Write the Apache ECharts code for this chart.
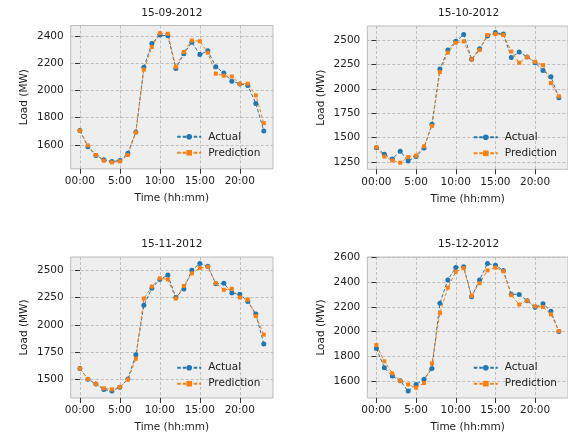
<!DOCTYPE html>
<html>
<head>
<meta charset="utf-8">
<script src="https://cdn.jsdelivr.net/npm/echarts@6/dist/echarts.min.js"></script>
<style>
    html, body { margin: 0; padding: 0; background: #fff; }
    #chart { width: 568px; height: 434px; }
</style>
</head>
<body>
<div id="chart"></div>
<script>
    // hourly load, actual vs. prediction, one day per month
    var hours = [0, 1, 2, 3, 4, 5, 6, 7, 8, 9, 10, 11, 12, 13, 14, 15, 16, 17, 18, 19, 20, 21, 22, 23];
    var xTicks = [0, 5, 10, 15, 20];
    var titles = ['15-09-2012', '15-10-2012', '15-11-2012', '15-12-2012'];

    var actualSep = [1705, 1585, 1522, 1490, 1476, 1484, 1538, 1695, 2172, 2348, 2410, 2405, 2163, 2272, 2358, 2266, 2294, 2177, 2130, 2070, 2050, 2038, 1906, 1703];
    var predSep   = [1705, 1595, 1525, 1483, 1470, 1478, 1525, 1692, 2155, 2322, 2425, 2420, 2175, 2285, 2370, 2365, 2280, 2125, 2110, 2105, 2050, 2052, 1965, 1760];

    var actualOct = [1395, 1330, 1280, 1360, 1260, 1305, 1392, 1638, 2205, 2400, 2490, 2560, 2305, 2415, 2545, 2580, 2565, 2325, 2380, 2330, 2270, 2190, 2125, 1910];
    var predOct   = [1400, 1305, 1265, 1242, 1300, 1315, 1410, 1620, 2175, 2375, 2475, 2490, 2305, 2400, 2555, 2565, 2555, 2385, 2270, 2330, 2280, 2245, 2060, 1925];

    var actualNov = [1600, 1503, 1458, 1408, 1395, 1430, 1505, 1726, 2178, 2334, 2415, 2455, 2250, 2328, 2500, 2560, 2535, 2375, 2380, 2292, 2280, 2213, 2100, 1825];
    var predNov   = [1600, 1505, 1460, 1420, 1410, 1430, 1500, 1690, 2240, 2350, 2425, 2415, 2240, 2355, 2470, 2520, 2530, 2380, 2320, 2330, 2250, 2230, 2080, 1910];

    var actualDec = [1862, 1705, 1638, 1600, 1516, 1570, 1612, 1700, 2230, 2420, 2520, 2527, 2282, 2420, 2553, 2539, 2496, 2304, 2302, 2250, 2197, 2227, 2165, 2000];
    var predDec   = [1890, 1758, 1660, 1600, 1570, 1544, 1582, 1742, 2151, 2357, 2486, 2515, 2290, 2392, 2497, 2520, 2490, 2296, 2220, 2252, 2205, 2200, 2140, 2004];

    var yTicksSep = [1600, 1800, 2000, 2200, 2400];
    var yTicksOct = [1250, 1500, 1750, 2000, 2250, 2500];
    var yTicksNov = [1500, 1750, 2000, 2250, 2500];
    var yTicksDec = [1600, 1800, 2000, 2200, 2400, 2600];

    var panels = [
        {title: titles[0], actual: actualSep, pred: predSep, yTicks: yTicksSep, yMin: 1423, yMax: 2481,
         left: 70.7, top: 25.5, width: 202.3, height: 143.3},
        {title: titles[1], actual: actualOct, pred: predOct, yTicks: yTicksOct, yMin: 1174, yMax: 2648,
         left: 367.3, top: 26, width: 202.6, height: 143.3},
        {title: titles[2], actual: actualNov, pred: predNov, yTicks: yTicksNov, yMin: 1331, yMax: 2620,
         left: 70.7, top: 257, width: 202.3, height: 142.7},
        {title: titles[3], actual: actualDec, pred: predDec, yTicks: yTicksDec, yMin: 1460, yMax: 2606,
         left: 367.3, top: 257, width: 202.6, height: 142.7}
    ];

    var FONT = 'DejaVu Sans';
    var TEXT = '#222';
    var FS = 10.5;
    var DASH = [3.5, 2];

    function pairs(arr) {
        return hours.map(function (h, i) { return [h, arr[i]]; });
    }
    function hourLabel(v) {
        return v === 0 ? '00:00' : v + ':00';
    }
    function plain(v) {
        return String(v);
    }

    var option = {
        animation: false,
        backgroundColor: '#fff',
        textStyle: {fontFamily: FONT},
        title: [], grid: [], xAxis: [], yAxis: [], legend: [], series: []
    };

    panels.forEach(function (p, k) {
        option.title.push({
            text: p.title,
            left: p.left + p.width / 2,
            top: p.top - 18,
            textAlign: 'center',
            padding: 0,
            textStyle: {fontFamily: FONT, fontSize: FS, fontWeight: 'normal', color: TEXT}
        });
        option.grid.push({
            left: p.left, top: p.top, width: p.width, height: p.height,
            show: true, backgroundColor: '#eeeeee', borderColor: '#bcbcbc', borderWidth: 1
        });
        option.xAxis.push({
            type: 'value', gridIndex: k, min: -1.15, max: 24.15,
            name: 'Time (hh:mm)', nameLocation: 'middle', nameGap: 24,
            nameTextStyle: {fontFamily: FONT, fontSize: FS, color: TEXT},
            axisLine: {show: false},
            axisTick: {show: true, length: 5, customValues: xTicks, lineStyle: {color: '#333', width: 1}},
            axisLabel: {customValues: xTicks, margin: 7, fontFamily: FONT, fontSize: FS, color: TEXT, formatter: hourLabel},
            splitLine: {show: true, customValues: xTicks, lineStyle: {color: '#b2b2b2', type: [3, 2], width: 0.8}}
        });
        option.yAxis.push({
            type: 'value', gridIndex: k, min: p.yMin, max: p.yMax,
            name: 'Load (MW)', nameLocation: 'middle', nameGap: 41,
            nameTextStyle: {fontFamily: FONT, fontSize: FS, color: TEXT},
            axisLine: {show: false},
            axisTick: {show: true, length: 5, customValues: p.yTicks, lineStyle: {color: '#333', width: 1}},
            axisLabel: {customValues: p.yTicks, margin: 7, fontFamily: FONT, fontSize: FS, color: TEXT, formatter: plain},
            splitLine: {show: true, customValues: p.yTicks, lineStyle: {color: '#b2b2b2', type: [3, 2], width: 0.8}}
        });
        option.legend.push({
            orient: 'vertical',
            left: p.left + 105.5,
            top: p.top + p.height - 37.5,
            padding: 0,
            itemWidth: 24, itemHeight: 7, itemGap: 5,
            textStyle: {fontFamily: FONT, fontSize: FS, color: TEXT, padding: [0, 0, 0, 2]},
            data: ['Actual', 'Prediction']
        });
        option.series.push({
            name: 'Actual', type: 'line', xAxisIndex: k, yAxisIndex: k,
            data: pairs(p.actual),
            symbol: 'circle', symbolSize: 5,
            itemStyle: {color: '#1f77b4'},
            lineStyle: {color: '#1f77b4', width: 1, type: DASH}
        });
        option.series.push({
            name: 'Prediction', type: 'line', xAxisIndex: k, yAxisIndex: k,
            data: pairs(p.pred),
            symbol: 'rect', symbolSize: 4,
            itemStyle: {color: '#ff7f0e'},
            lineStyle: {color: '#ff7f0e', width: 1, type: DASH}
        });
    });

    var myChart = echarts.init(document.getElementById('chart'));
    myChart.setOption(option);
</script>
</body>
</html>
